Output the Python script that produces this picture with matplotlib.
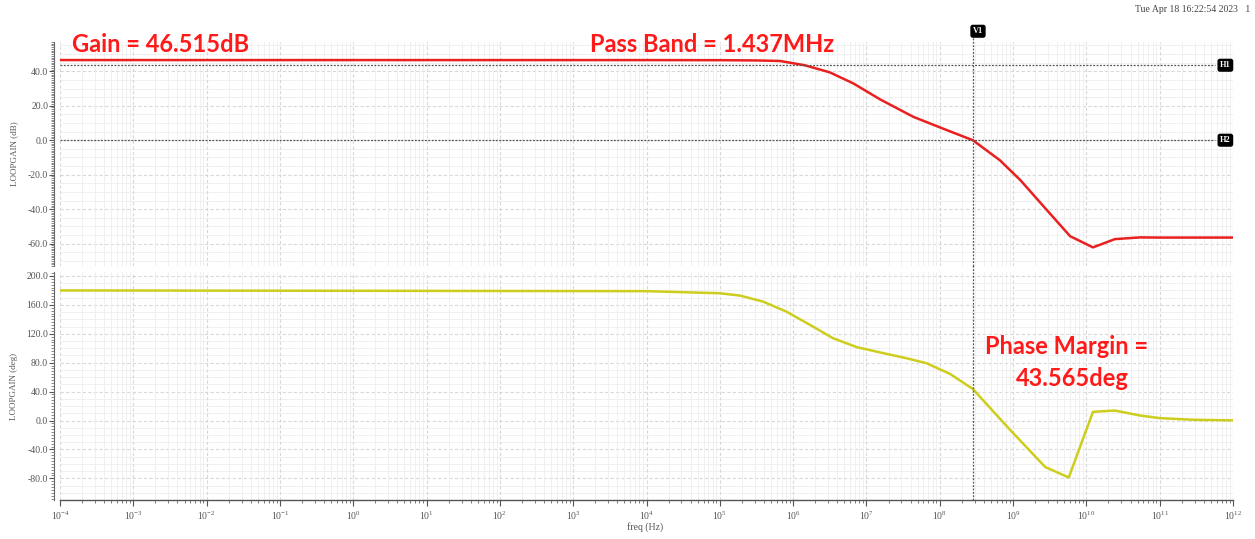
import numpy as np
import matplotlib
matplotlib.use("Agg")
import matplotlib.pyplot as plt
import matplotlib.transforms as mtransforms
from matplotlib.ticker import (FixedLocator, LogLocator, MultipleLocator,
                               FormatStrFormatter, LogFormatterSciNotation,
                               NullFormatter)

plt.rcParams['font.family'] = ['Liberation Serif', 'DejaVu Serif']
plt.rcParams['mathtext.fontset'] = 'stix'

# ---- loop gain magnitude (dB) ----
gain_freq = [1e-4, 1e4, 1e5, 3.16e5, 6.6e5, 1.437e6, 3.16e6, 6.6e6, 1.55e7,
             4.4e7, 1.26e8, 2.83e8, 6.6e8, 1.26e9, 2.75e9, 6.0e9, 1.23e10,
             2.45e10, 5.4e10, 1e11, 1e12]
gain_db = [46.515, 46.5, 46.45, 46.3, 46.0, 43.515, 39.4, 33.0, 23.6,
           13.5, 5.8, 0.0, -11.6, -23.2, -39.5, -55.7, -62.2,
           -57.4, -56.4, -56.5, -56.5]

# ---- loop gain phase (deg) ----
phase_freq = [1e-4, 1e4, 1e5, 1.9e5, 3.9e5, 8.1e5, 1.7e6, 3.5e6, 7.4e6,
              1.7e7, 3.5e7, 6.6e7, 1.38e8, 2.83e8, 9.1e8, 2.75e9, 5.75e9,
              1.23e10, 2.45e10, 5.4e10, 1e11, 2.9e11, 1e12]
phase_deg = [180.0, 179.0, 176.1, 172.8, 164.5, 150.7, 132.3, 113.9, 101.5,
             93.2, 86.2, 79.3, 64.5, 43.565, -12.9, -64.4, -78.8,
             12.0, 13.8, 6.9, 3.3, 1.0, 0.2]

# marker values
dc_gain = 46.515
passband_hz = 1.437e6
unity_hz = 2.83e8
phase_margin = 43.565
h1_level = dc_gain - 3.0
h2_level = 0.0

decades = 10.0 ** np.arange(-4, 13)

W, H = 1255, 539
fig = plt.figure(figsize=(W / 100, H / 100), dpi=100)
ax_g = fig.add_axes([60 / W, 1 - 266 / H, 1173 / W, 224 / H])
ax_p = fig.add_axes([60 / W, 1 - 500 / H, 1173 / W, 228 / H], sharex=ax_g)


def style_axis(ax, ylim, major, minor_tick, minor_grid):
    ax.set_xscale('log')
    ax.set_xlim(1e-4, 1e12)
    ax.set_ylim(*ylim)
    for side in ('top', 'right', 'bottom'):
        ax.spines[side].set_visible(False)
    ax.spines['left'].set_position(('outward', 4))
    ax.spines['left'].set_color('#666666')
    ax.spines['left'].set_linewidth(0.8)

    ax.yaxis.set_major_locator(MultipleLocator(major))
    ax.yaxis.set_minor_locator(MultipleLocator(minor_tick))
    ax.yaxis.set_major_formatter(FormatStrFormatter('%.1f'))
    ax.tick_params(axis='y', which='major', labelsize=7, colors='#555555',
                   length=3.5, width=0.8, pad=1)
    ax.tick_params(axis='y', which='minor', colors='#777777',
                   length=2, width=0.6)

    ax.xaxis.set_major_locator(FixedLocator(decades))
    ax.xaxis.set_minor_locator(LogLocator(base=10, subs=np.arange(2, 10),
                                          numticks=200))
    ax.grid(which='major', axis='x', color='#d8d8d8', lw=0.8, ls=(0, (3, 2)))
    ax.grid(which='minor', axis='x', color='#eeeeee', lw=0.6)

    # horizontal grid: fine lines plus heavier lines at labelled values
    lo = np.ceil(ylim[0] / minor_grid) * minor_grid
    for y in np.arange(lo, ylim[1], minor_grid):
        if abs(y / major - round(y / major)) < 1e-6:
            ax.axhline(y, color='#d8d8d8', lw=0.8, ls=(0, (3, 2)), zorder=0)
        else:
            ax.axhline(y, color='#eeeeee', lw=0.6, zorder=0)


style_axis(ax_g, (-73, 57), 20, 1, 5)
style_axis(ax_p, (-110, 205.5), 40, 4, 10)

ax_g.tick_params(axis='x', which='both', bottom=False, labelbottom=False)

ax_p.spines['bottom'].set_visible(True)
ax_p.spines['bottom'].set_color('#555555')
ax_p.spines['bottom'].set_linewidth(1.0)
ax_p.xaxis.set_major_formatter(LogFormatterSciNotation())
ax_p.xaxis.set_minor_formatter(NullFormatter())
ax_p.tick_params(axis='x', which='major', labelsize=7, colors='#555555',
                 length=4, width=0.8, pad=3)
ax_p.tick_params(axis='x', which='minor', colors='#666666', length=2.5,
                 width=0.6)

# curves
ax_g.plot(gain_freq, gain_db, color='#e8201f', lw=1.8, zorder=3)
ax_p.plot(phase_freq, phase_deg, color='#cdcd1e', lw=1.8, zorder=3)

# horizontal cursors H1 / H2
blend_g = mtransforms.blended_transform_factory(ax_g.transAxes, ax_g.transData)
for name, level in (('H1', h1_level), ('H2', h2_level)):
    ax_g.axhline(level, xmax=0.985, color='#555555', lw=0.9,
                 ls=(0, (1.5, 1.2)), zorder=4)
    ax_g.text(0.9935, level, name, transform=blend_g, ha='center',
              va='center', color='white', fontsize=6, fontweight='bold',
              bbox=dict(boxstyle='round,pad=0.22', fc='black', ec='black'),
              zorder=6, clip_on=False)

# vertical cursor V1 at unity gain
ax_g.axvline(unity_hz, ymax=1.022, color='#555555', lw=0.9,
             ls=(0, (1.5, 1.2)), zorder=4, clip_on=False)
ax_p.axvline(unity_hz, ymax=1.03, color='#555555', lw=0.9,
             ls=(0, (1.5, 1.2)), zorder=4, clip_on=False)
blend_v = mtransforms.blended_transform_factory(ax_g.transData, ax_g.transAxes)
ax_g.text(unity_hz, 1.048, 'V1', transform=blend_v, ha='left', va='center',
          color='white', fontsize=6, fontweight='bold',
          bbox=dict(boxstyle='round,pad=0.22', fc='black', ec='black'),
          zorder=6, clip_on=False)

# axis labels
ax_g.set_ylabel('LOOPGAIN (dB)', fontsize=6.5, color='#555555')
ax_p.set_ylabel('LOOPGAIN (deg)', fontsize=6.5, color='#555555')
ax_g.yaxis.set_label_coords(-42 / 1173, 0.5)
ax_p.yaxis.set_label_coords(-42 / 1173, 0.5)
fig.text(645 / W, 1 - 527 / H, 'freq (Hz)', ha='center', va='center',
         fontsize=7, color='#555555')
fig.text(1250 / W, 1 - 10 / H, 'Tue Apr 18 16:22:54 2023   1', ha='right',
         va='center', fontsize=7, color='#444444')

# red call-outs
note = dict(color='#ff1a1a', fontweight='bold', family=['Lato', 'DejaVu Sans'],
            fontsize=17, va='center')
fig.text(72 / W, 1 - 44 / H, f'Gain = {dc_gain:.3f}dB', ha='left', **note)
fig.text(590 / W, 1 - 44 / H, f'Pass Band = {passband_hz / 1e6:.3f}MHz',
         ha='left', **note)
fig.text(1067 / W, 1 - 346 / H, 'Phase Margin =', ha='center', **note)
fig.text(1072 / W, 1 - 379 / H, f'{phase_margin:.3f}deg', ha='center', **note)

fig.savefig('out.png', dpi=100, facecolor='white')
